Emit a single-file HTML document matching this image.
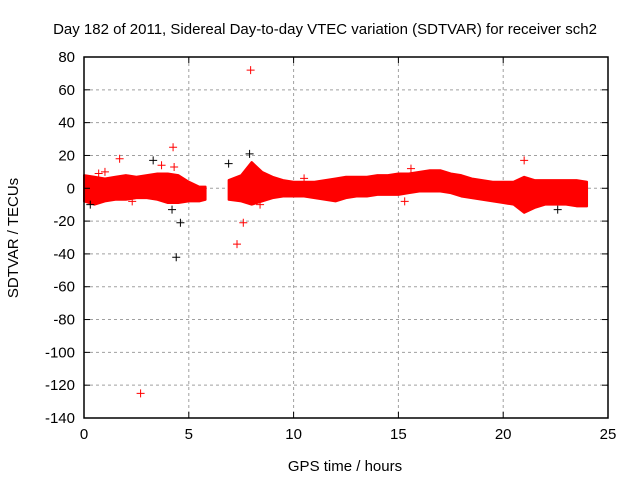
<!DOCTYPE html>
<html><head><meta charset="utf-8"><style>
body{margin:0;background:#fff}
svg{display:block;font-family:"Liberation Sans",sans-serif}
</style></head><body>
<svg id="chart" width="640" height="480" viewBox="0 0 640 480">
<text x="325" y="34" font-size="15" text-anchor="middle">Day 182 of 2011, Sidereal Day-to-day VTEC variation (SDTVAR) for receiver sch2</text>
<text x="345" y="471" font-size="15" text-anchor="middle">GPS time / hours</text>
<text transform="translate(18,238) rotate(-90)" font-size="15" text-anchor="middle">SDTVAR / TECUs</text>
<g id="grid"></g><g id="band"></g><g id="pts"></g><g id="axes"></g>
</svg>
<script>
const xTicks=[0,5,10,15,20,25];
const yTicks=[80,60,40,20,0,-20,-40,-60,-80,-100,-120,-140];
const bandHours1=[0,0.5,1,1.5,2,2.5,3,3.5,4,4.5,5,5.5,5.8];
const bandUpper1=[8,7,6,7,8,7,8,9,9,8,4,1,1];
const bandLower1=[-8,-10,-8,-7,-7,-6,-6,-7,-9,-9,-8,-8,-7];
const bandHours2=[6.9,7.5,8,8.5,9,9.5,10,10.5,11,11.5,12,12.5,13,13.5,14,14.5,15,15.5,16,16.5,17,17.5,18,18.5,19,19.5,20,20.5,21,21.5,22,22.5,23,23.5,24];
const bandUpper2=[5,8,16,10,7,5,4,4,4,5,6,7,7,7,8,8,9,9,10,11,11,9,8,6,5,4,4,4,7,5,5,5,5,5,4];
const bandLower2=[-7,-8,-10,-8,-6,-5,-5,-5,-6,-7,-8,-6,-5,-5,-4,-4,-4,-3,-2,-2,-2,-3,-5,-6,-7,-8,-9,-10,-15,-12,-10,-10,-10,-11,-11];
const outX=[2.7,7.95,4.25,4.4,4.6,7.3,7.6,7.9,21,15.6,1.7,3.3,0.7,22.6,10.5,15.3,2.3,4.2,6.9,8.4,0.3,1.0,3.7,4.3];
const outY=[-125,72,25,-42,-21,-34,-21,21,17,12,18,17,9,-13,6,-8,-8,-13,15,-10,-10,10,14,13];
const outBlack=[0,0,0,1,1,0,0,1,0,0,0,1,0,1,0,0,0,1,1,0,1,0,0,0];
const X0=84,X1=608,Y0=57,Y1=418;
const sx=v=>X0+(v-0)/(25-0)*(X1-X0);
const sy=v=>Y0+(80-v)/(80+140)*(Y1-Y0);
const NS="http://www.w3.org/2000/svg";
function mk(t,a,p){const e=document.createElementNS(NS,t);for(const k in a)e.setAttribute(k,a[k]);p.appendChild(e);return e;}
const grid=document.getElementById('grid'),axes=document.getElementById('axes'),band=document.getElementById('band'),pts=document.getElementById('pts');
xTicks.forEach(v=>{const x=sx(v);
 if(v>0&&v<25){const l=mk('line',{x1:x,x2:x,y1:Y0,y2:Y1,stroke:'#a0a0a0','stroke-dasharray':'3,3'},grid);
 
 }
 mk('line',{x1:x,x2:x,y1:Y1,y2:Y1-6,stroke:'#000'},axes);
 mk('line',{x1:x,x2:x,y1:Y0,y2:Y0+6,stroke:'#000'},axes);
 const t=mk('text',{x:x,y:Y1+21,'font-size':15,'text-anchor':'middle'},axes);t.textContent=v;
 
 });
yTicks.forEach(v=>{const y=sy(v);
 if(v<80&&v>-140){const l=mk('line',{x1:X0,x2:X1,y1:y,y2:y,stroke:'#a0a0a0','stroke-dasharray':'3,3'},grid);
 
 }
 mk('line',{x1:X0,x2:X0+6,y1:y,y2:y,stroke:'#000'},axes);
 mk('line',{x1:X1,x2:X1-6,y1:y,y2:y,stroke:'#000'},axes);
 const t=mk('text',{x:X0-9,y:y+5,'font-size':15,'text-anchor':'end'},axes);t.textContent=v;
 
 });
const b=mk('rect',{x:X0,y:Y0,width:X1-X0,height:Y1-Y0,fill:'none',stroke:'#000','stroke-width':1.5},axes);


function drawBand(h,u,l,name){
 let d='M'+h.map((v,i)=>sx(v)+','+sy(u[i])).join(' L');
 d+=' L'+h.map((v,i)=>sx(v)+','+sy(l[i])).reverse().join(' L')+'Z';
 const p=mk('path',{d:d,fill:'#ff0000',stroke:'#ff0000','stroke-width':2,'stroke-linejoin':'round'},band);
 
 }
drawBand(bandHours1,bandUpper1,bandLower1,'data-band-early');
drawBand(bandHours2,bandUpper2,bandLower2,'data-band-late');
outX.forEach((v,i)=>{const x=sx(v),y=sy(outY[i]);const c=outBlack[i]?'#000':'#ff0000';
 const g=mk('path',{d:`M${x-4},${y}H${x+4}M${x},${y-4}V${y+4}`,stroke:c,'stroke-width':1},pts);
 
 });
</script>
</body></html>
